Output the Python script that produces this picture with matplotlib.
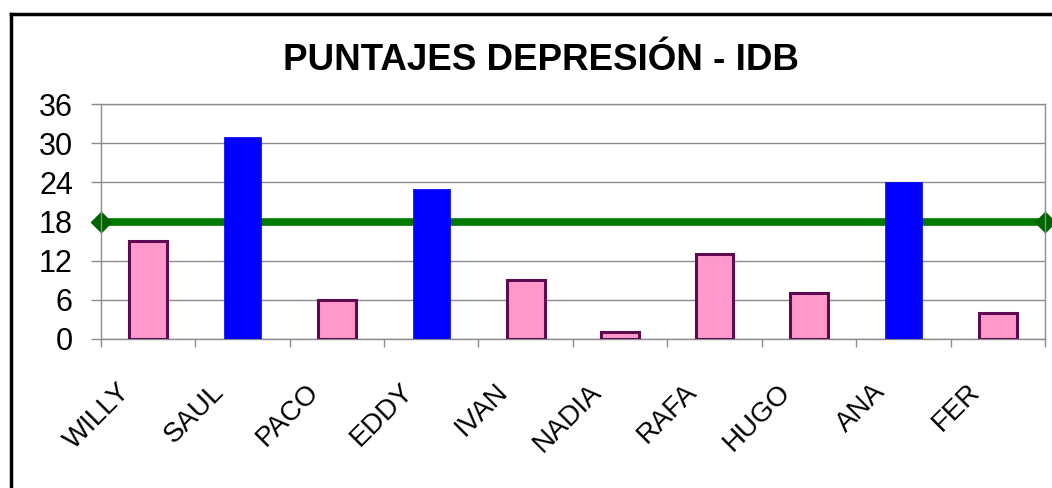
"""Bar chart of IDB depression scores with cut-off line at 18."""
import matplotlib
matplotlib.use("Agg")
import matplotlib.pyplot as plt
import matplotlib.transforms as mtransforms
from matplotlib.lines import Line2D

names = ["WILLY", "SAUL", "PACO", "EDDY", "IVAN", "NADIA", "RAFA", "HUGO", "ANA", "FER"]
scores = [15, 31, 6, 23, 9, 1, 13, 7, 24, 4]
cutoff = 18
yticks = [0, 6, 12, 18, 24, 30, 36]
title = "PUNTAJES DEPRESIÓN - IDB"

plt.rcParams["font.family"] = ["Liberation Sans", "DejaVu Sans"]

W, H = 1052, 488
fig = plt.figure(figsize=(W / 100, H / 100), dpi=100)
ax = fig.add_axes([100.7 / W, 1 - 339 / H, (1045 - 100.7) / W, (339 - 104) / H])

x = list(range(len(names)))
high = [s > cutoff for s in scores]
for xi, s, hi in zip(x, scores, high):
    if hi:
        ax.bar(xi, s, width=0.39, color="#0000FF", edgecolor="#0000FF", linewidth=0.5, zorder=3)
    else:
        ax.bar(xi, s, width=0.4, color="#FF99CC", edgecolor="#5E0A52", linewidth=2.2, zorder=3)

ax.plot([-0.5, len(names) - 0.5], [cutoff, cutoff], color="#007A00", lw=5.5,
        marker="D", markersize=10, markerfacecolor="#006400", markeredgecolor="#006400",
        clip_on=False, zorder=2)

ax.set_xlim(-0.5, len(names) - 0.5)
ax.set_ylim(0, 36)
ax.set_yticks(yticks)
ax.set_yticklabels([str(t) for t in yticks], fontsize=22)
ax.yaxis.grid(True, color="#8C8C8C", lw=1.0, zorder=0)
ax.set_axisbelow(True)
ax.tick_params(axis="y", direction="out", length=7, width=1, color="#8C8C8C", pad=13)

ax.set_xticks([i - 0.5 for i in range(len(names) + 1)])
ax.set_xticklabels([])
ax.tick_params(axis="x", direction="out", length=6, width=1, color="#8C8C8C")

for sp in ax.spines.values():
    sp.set_color("#8C8C8C")
    sp.set_linewidth(1.0)

# rotated category labels, end of word placed left of the bar
offset = mtransforms.ScaledTranslation(-22 / 100, -49 / 100, fig.dpi_scale_trans)
for xi, name in zip(x, names):
    ax.text(xi, 0, name, transform=ax.get_xaxis_transform() + offset,
            rotation=45, rotation_mode="anchor", ha="right", va="center", fontsize=20)

fig.text(541 / W, 1 - 70 / H, title, ha="center", va="baseline",
         fontsize=26.5, fontweight="bold")

# outer black frame (cut off on the right and bottom)
fig.add_artist(Line2D([11 / W, 11 / W], [0, 1 - 14 / H], transform=fig.transFigure,
                      color="black", lw=2.5, solid_capstyle="projecting"))
fig.add_artist(Line2D([11 / W, 1], [1 - 14 / H, 1 - 14 / H], transform=fig.transFigure,
                      color="black", lw=2.5, solid_capstyle="projecting"))

fig.savefig("out.png", dpi=100)
